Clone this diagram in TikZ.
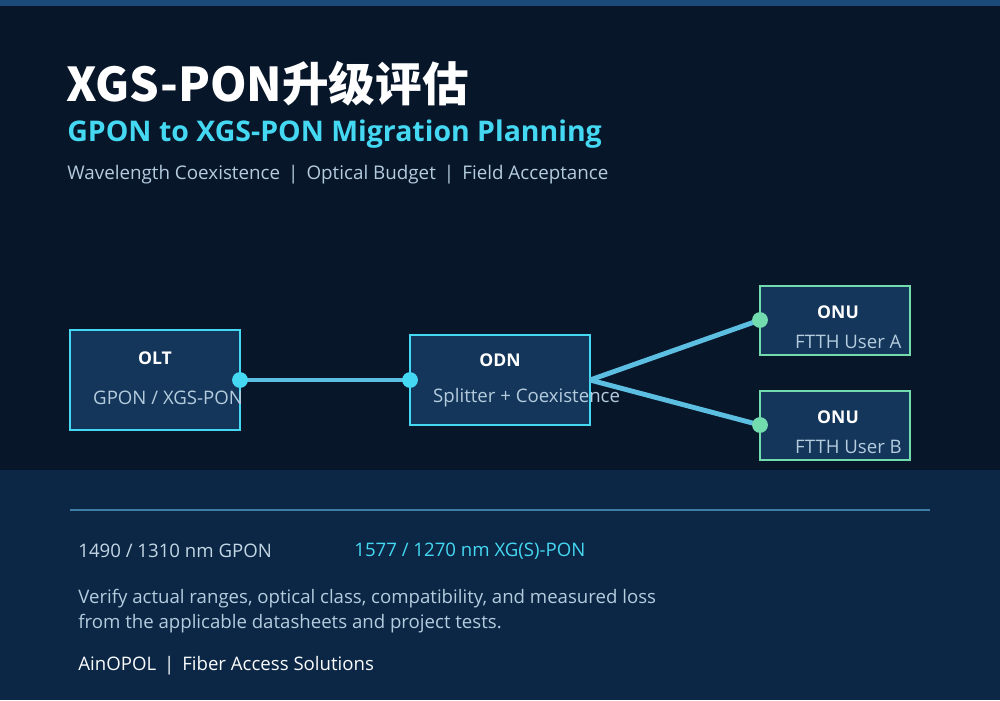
\documentclass[tikz,border=0pt]{standalone}
\usepackage{fontspec}
\setmainfont{Open Sans}
\newfontfamily\cjk{Noto Sans CJK SC}
\begin{document}
\definecolor{bgdark}{HTML}{071629}
\definecolor{bgpanel}{HTML}{0C2745}
\definecolor{topbar}{HTML}{1B4A7A}
\definecolor{boxfill}{HTML}{14365A}
\definecolor{cyanb}{HTML}{45D8F2}
\definecolor{greenb}{HTML}{72DCAF}
\definecolor{linkc}{HTML}{5CBFE2}
\definecolor{softtxt}{HTML}{B4CCDE}
\definecolor{ruler}{HTML}{3E7EA6}
\begin{tikzpicture}[x=0.02cm,y=-0.02cm,
  boxc/.style={draw=cyanb,fill=boxfill,line width=1.4pt},
  boxg/.style={draw=greenb,fill=boxfill,line width=1.4pt},
  head/.style={font=\bfseries\fontsize{10}{12}\selectfont,text=white},
  sub/.style={font=\fontsize{10.6}{12}\selectfont,text=softtxt,anchor=west},
  link/.style={draw=linkc,line width=2.8pt},
  dotc/.style={circle,fill=cyanb,inner sep=0pt,minimum size=9pt},
  dotg/.style={circle,fill=greenb,inner sep=0pt,minimum size=9pt},
  txt/.style={anchor=west,inner sep=0pt},
  btxt/.style={txt,font=\fontsize{10.6}{12}\selectfont}]
\useasboundingbox (0,0) rectangle (1000,700);
\fill[bgdark] (0,0) rectangle (1000,700);
\fill[bgpanel] (0,470) rectangle (1000,700);
\fill[topbar] (0,0) rectangle (1000,6);
\node[txt,text=white,font=\cjk\bfseries\fontsize{26.5}{30}\selectfont] (title) at (66,84) {XGS-PON升级评估};
\node[txt,text=cyanb,font=\bfseries\fontsize{16.2}{19}\selectfont] (subtitle) at (67,134) {GPON to XGS-PON Migration Planning};
\node[txt,text=softtxt,font=\fontsize{10.7}{12}\selectfont] (tagline) at (67,175) {Wavelength Coexistence \,|\, Optical Budget \,|\, Field Acceptance};
% boxes
\draw[boxc] (70,330) rectangle (240,430);
\node[head] (oltH) at (155,358) {OLT};
\node[sub] (oltS) at (87,398) {GPON / XGS-PON};
\draw[boxc] (410,335) rectangle (590,425);
\node[head] (odnH) at (500,360) {ODN};
\node[sub] (odnS) at (427,398) {Splitter + Coexistence};
\draw[boxg] (760,286) rectangle (910,355);
\node[head] (onuAH) at (838,312) {ONU};
\node[sub] (onuAS) at (789,342) {FTTH User A};
\draw[boxg] (760,391) rectangle (910,460);
\node[head] (onuBH) at (838,417) {ONU};
\node[sub] (onuBS) at (789,447) {FTTH User B};
% connectors
\coordinate (oltE) at (240,380);
\coordinate (odnW) at (410,380);
\coordinate (odnE) at (590,380);
\coordinate (onuAW) at (760,320);
\coordinate (onuBW) at (760,425);
\draw[link] (oltE) -- (odnW);
\draw[link] (odnE) -- (onuAW);
\draw[link] (odnE) -- (onuBW);
\node[dotc] at (oltE) {};
\node[dotc] at (odnW) {};
\node[dotg] at (onuAW) {};
\node[dotg] at (onuBW) {};
% bottom panel
\draw[ruler,line width=1.2pt] (70,510) -- (930,510);
\node[btxt,text=softtxt!80!white] (w1) at (78,551) {1490 / 1310 nm GPON};
\node[btxt,text=cyanb] (w2) at (354,551) {1577 / 1270 nm XG(S)-PON};
\node[btxt,text=softtxt] (n1) at (78,599) {Verify actual ranges, optical class, compatibility, and measured loss};
\node[btxt,text=softtxt] (n2) at (78,624) {from the applicable datasheets and project tests.};
\node[btxt,text=white!92!softtxt] (brand) at (78,666) {AinOPOL \,|\, Fiber Access Solutions};
\end{tikzpicture}
\end{document}
